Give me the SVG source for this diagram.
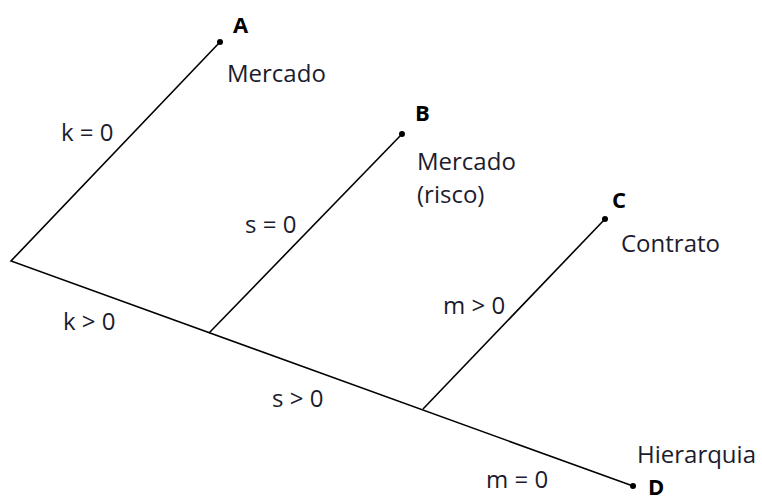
<svg xmlns="http://www.w3.org/2000/svg" width="762" height="501" viewBox="0 0 762 501">
<style>
.t{font-family:"Open Sans","Noto Sans",sans-serif;font-size:24px;fill:#1c1c2e}
.b{font-family:"Open Sans","Noto Sans",sans-serif;font-size:22px;font-weight:bold;fill:#000}
.l{stroke:#000;stroke-width:1.6;fill:none}
</style>
<rect width="762" height="501" fill="#fff"/>
<g id="connectors">
<polyline class="l" points="220,42 11,261 633,486"/>
<line class="l" x1="209" y1="333" x2="402" y2="134"/>
<line class="l" x1="423" y1="409" x2="605" y2="219"/>
<text class="t" x="61" y="141">k = 0</text>
<text class="t" x="63" y="330">k &gt; 0</text>
<text class="t" x="245" y="233">s = 0</text>
<text class="t" x="272" y="407">s &gt; 0</text>
<text class="t" x="443" y="314">m &gt; 0</text>
<text class="t" x="486" y="488">m = 0</text>
</g>
<g id="A">
<circle cx="220" cy="42" r="3"/>
<text class="b" x="233" y="33">A</text>
<text class="t" x="227" y="82">Mercado</text>
</g>
<g id="B">
<circle cx="402" cy="134" r="3"/>
<text class="b" x="415" y="121">B</text>
<text class="t" x="417" y="170">Mercado</text>
<text class="t" x="417" y="203">(risco)</text>
</g>
<g id="C">
<circle cx="605" cy="219" r="3"/>
<text class="b" x="612" y="208">C</text>
<text class="t" x="621" y="252">Contrato</text>
</g>
<g id="D">
<circle cx="633" cy="486" r="3"/>
<text class="t" x="637" y="463">Hierarquia</text>
<text class="b" x="648" y="495" font-size="20">D</text>
</g>
</svg>
